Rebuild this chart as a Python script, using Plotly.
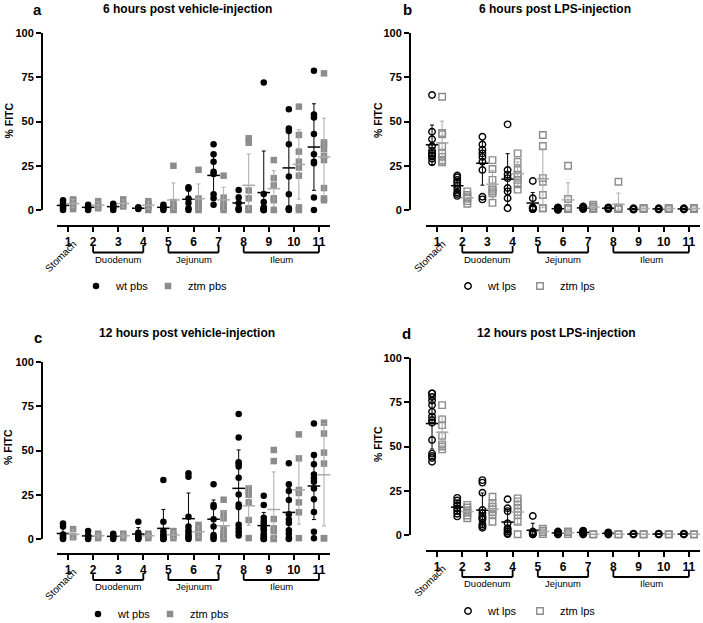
import numpy as np
import plotly.graph_objects as go

W, H = 703, 623
FONT = "Liberation Sans, Arial, Helvetica, sans-serif"

# ---------------- data ----------------
categories = list(range(1, 12))
tick_labels = [str(c) for c in categories]
first_label = "Stomach"
regions = [("Duodenum", 2, 4), ("Jejunum", 5, 7), ("Ileum", 8, 11)]
y_ticks = [0, 25, 50, 75, 100]
panel_letters = ["a", "b", "c", "d"]
panel_titles = ["6 hours post vehicle-injection", "6 hours post LPS-injection",
                "12 hours post vehicle-injection", "12 hours post LPS-injection"]
series_names = [("wt pbs", "ztm pbs"), ("wt lps", "ztm lps"),
                ("wt pbs", "ztm pbs"), ("wt lps", "ztm lps")]
y_title = "% FITC"

# panel a: 6 h vehicle
a_wt = [
    [0, 1, 2, 3, 4, 5.5],
    [0, 1, 2, 3],
    [0, 1, 2, 3, 3.5],
    [0.5, 1, 1.5],
    [0, 1, 2, 3],
    [0, 1, 4, 6.5, 12, 12.8],
    [3, 6.6, 8.9, 20.3, 21.6, 27.3, 31.5, 37.1],
    [0, 0.5, 1, 4, 7, 11.3],
    [0, 0, 0, 0.5, 1, 1.5, 4.5, 9, 72],
    [0, 0.5, 1, 8.9, 18.9, 37.1, 44.6, 46.1, 56.9],
    [0, 7, 26.4, 27.3, 31.5, 43, 52.2, 54, 78.7],
]
a_ztm = [
    [0.5, 2, 4, 5.5, 6],
    [1, 2, 5],
    [2, 3, 6],
    [0, 2, 4, 5],
    [0, 0.5, 1, 3, 4.5, 25],
    [0, 1, 3, 5, 6.5, 22.7],
    [0, 1, 2.5, 4.5, 7, 19.4],
    [0, 0.5, 1, 6.6, 11, 38, 40.5],
    [0, 5.5, 6.6, 13.9, 18, 28.2],
    [0, 1.5, 19.4, 24, 27.3, 33, 42.4, 58.4],
    [5.5, 6.6, 12.4, 28.2, 30.6, 34.5, 37, 38.2, 77.2],
]

# panel b: 6 h LPS
b_wt = [
    [27, 29, 30.5, 31, 32, 33.5, 36, 40, 44.2, 65],
    [8, 9, 10, 12, 14, 15.5, 17, 18.5, 19.5],
    [6, 7.5, 22.6, 27.3, 30, 32, 34, 37, 41.4],
    [1, 6.6, 10.5, 12.4, 18, 20, 22.6, 48.4],
    [0.5, 0.5, 1, 1, 1.5, 6.6, 16.4],
    [0, 0.5, 0.5, 1, 1, 1.5],
    [0.5, 1, 1, 1.5, 2],
    [0.5, 1, 1, 1.5],
    [0.2, 0.5, 0.5, 1],
    [0.3, 0.5, 1],
    [0.3, 0.5, 1],
]
b_ztm = [
    [27, 28, 30, 32, 36, 42.8, 43.5, 64],
    [3.5, 5, 6.5, 7.5, 8.5, 10.5],
    [4, 9.5, 10.5, 11.5, 12.5, 17, 23.2, 28.2],
    [11.5, 14.5, 17, 19, 20, 22.6, 27.3, 32],
    [1, 1, 8.5, 16, 18, 36.2, 42.4],
    [0.5, 0.5, 1, 1, 6.2, 25],
    [0.5, 1, 2, 3],
    [0.5, 0.5, 1, 1, 1, 16],
    [0.5, 1, 1],
    [0.5, 1, 1],
    [0.5, 1, 1],
]

# panel c: 12 h vehicle
c_wt = [
    [0, 0.5, 1, 2, 2.5, 7, 8.8],
    [0, 0.5, 2, 4.5],
    [0, 1, 2, 3],
    [0, 0.5, 1, 2, 3.5, 9.8],
    [0, 0, 0.5, 1, 2, 3, 4.5, 9.8, 33.3],
    [0, 1, 2, 3.5, 5, 7, 12.6, 35.2, 37.1],
    [0, 1, 2.3, 7, 11.1, 18, 19.2, 30.9],
    [2, 4, 6, 8, 18, 19.5, 25.2, 34.6, 41, 42.5, 43.3, 57.4, 70.6],
    [0, 0, 1, 2, 3, 5, 6, 7, 8.5, 10, 12, 19.2, 24.5],
    [0, 0.5, 3, 5, 9, 11, 14, 22, 27.1, 30.9, 42.8],
    [0.4, 4.1, 15.3, 22.5, 28.6, 32.4, 34.3, 36.5, 42.2, 47.5, 65.3],
]
c_ztm = [
    [1, 1.5, 5.6],
    [0.5, 2, 3],
    [0.5, 2, 3],
    [0.5, 2, 3],
    [0.5, 2, 4.5],
    [0.5, 2, 4, 6, 8],
    [0, 0.5, 2, 3, 6, 11.7, 14.5, 22.2],
    [0.5, 10.7, 20.7, 25, 27, 28.6],
    [0, 0.5, 4.5, 6, 11.3, 44, 50.3],
    [0.5, 15.1, 20.7, 26, 27.7, 45.6, 59.1],
    [0.4, 0.5, 42.6, 48.8, 59.6, 65.7],
]

# panel d: 12 h LPS
d_wt = [
    [41.4, 43.5, 44.6, 46, 53.7, 63.4, 65, 66.9, 69.6, 73.4, 76, 78, 80, 80],
    [10.5, 12, 13.5, 15, 16.5, 18, 19.5, 21],
    [4.1, 5, 6, 8.7, 9.6, 10.5, 12.3, 14.1, 23.9, 29.6, 31],
    [0.5, 1, 2, 3, 3.8, 6.6, 13.5, 15.1, 20.2],
    [0.3, 0.5, 1, 1.5, 2, 10.7],
    [0.3, 0.8, 1.5, 2],
    [0.3, 1, 1.5, 2, 2.5],
    [0.3, 1, 1.5],
    [0.3, 0.5, 0.8],
    [0.3, 0.5, 0.8],
    [0.3, 0.5, 0.8],
]
d_ztm = [
    [48.4, 50, 51.2, 56.1, 62.1, 65.3, 73.4],
    [9.5, 11, 12.5, 14, 15.5, 17],
    [7.5, 11.5, 13, 14.5, 16, 18, 21.6],
    [0.4, 7.5, 11.3, 13, 15, 17, 19, 20.7],
    [0.5, 1.5, 2.5, 3.5],
    [0.5, 1.5, 2],
    [0.3, 0.5],
    [0.3, 0.5],
    [0.3, 0.5],
    [0.3, 0.5],
    [0.3, 0.5],
]

panel_data = [(a_wt, a_ztm), (b_wt, b_ztm), (c_wt, c_ztm), (d_wt, d_ztm)]

# ---------------- layout geometry (pixels) ----------------
geom = [
    dict(x0=57, x1=330, ytop=33, ybot=210, xax=226, yax=42, title=(187, 9), letter=(37, 9),
         ytitle=(8.5, 121), stomach=(-7.5, 256.5), br=(245, 252.5), brl=259.5, leg=(102, 286)),
    dict(x0=426, x1=700, ytop=33, ybot=210, xax=226, yax=410, title=(555, 9), letter=(407, 9),
         ytitle=(378, 120), stomach=(-7.5, 256.5), br=(246, 252.5), brl=259, leg=(474, 286)),
    dict(x0=57, x1=330, ytop=362, ybot=539, xax=554, yax=42, title=(187, 333), letter=(38, 337),
         ytitle=(8, 447), stomach=(-7.5, 584.5), br=(573, 580), brl=586.5, leg=(104, 614)),
    dict(x0=426, x1=700, ytop=358, ybot=535, xax=551, yax=410, title=(556, 333), letter=(406, 333),
         ytitle=(378, 444), stomach=(-8, 581), br=(569.5, 577), brl=583, leg=(474, 611)),
]


def px(x):
    return x / W


def py(y):
    return 1 - y / H


WT_COL = "#000000"
ZTM_COL = "#8c8c8c"
ZTM_BAR = "#ababab"
OFF = 0.2

fig = go.Figure()
shapes, annotations = [], []
layout = {}

for i, ((wt, ztm), g) in enumerate(zip(panel_data, geom)):
    sfx = "" if i == 0 else str(i + 1)
    xa, ya, leg = "x" + sfx, "y" + sfx, "legend" + sfx
    filled = i in (0, 2)
    groups = [
        (wt, -OFF, WT_COL, WT_COL, "circle" if filled else "circle-open", series_names[i][0], 27),
        (ztm, OFF, ZTM_COL, ZTM_BAR, "square" if filled else "square-open", series_names[i][1], 50),
    ]
    for vals, off, col, barcol, sym, name, lw in groups:
        xs, ys = [], []
        for c, v in zip(categories, vals):
            xs += [c + off] * len(v)
            ys += list(v)
        fig.add_trace(go.Scatter(
            x=xs, y=ys, mode="markers", name=name, xaxis=xa, yaxis=ya, legend=leg,
            legendwidth=lw, cliponaxis=False, hoverinfo="skip",
            marker=dict(symbol=sym, size=6.5, color=col,
                        line=dict(width=0 if filled else 1.4, color=col)),
        ))
        means = [float(np.mean(v)) for v in vals]
        sds = [float(np.std(v, ddof=1)) for v in vals]
        minus = [min(s, m) for s, m in zip(sds, means)]
        fig.add_trace(go.Scatter(
            x=[c + off for c in categories], y=means, mode="markers", showlegend=False,
            xaxis=xa, yaxis=ya, cliponaxis=False, hoverinfo="skip",
            marker=dict(symbol="line-ew", size=9, color=barcol, line=dict(width=1.5, color=barcol)),
            error_y=dict(type="data", symmetric=False, array=sds, arrayminus=minus,
                         color=barcol, thickness=1, width=2),
        ))

    layout["xaxis" + sfx] = dict(
        domain=[px(g["x0"]), px(g["x1"])], range=[0.56, 11.44], anchor="free",
        position=py(g["xax"]), tickvals=categories, ticktext=tick_labels,
        ticks="outside", ticklen=5, tickwidth=2, tickcolor="black", automargin=False,
        showline=True, linewidth=2, linecolor="black", showgrid=False, zeroline=False,
        tickfont=dict(family=FONT, size=12, color="black", weight="bold"),
    )
    layout["yaxis" + sfx] = dict(
        domain=[py(g["ybot"]), py(g["ytop"])], range=[0, 100], anchor="free",
        position=px(g["yax"]), tickvals=y_ticks, automargin=False,
        ticks="outside", ticklen=5, tickwidth=2, tickcolor="black",
        showline=True, linewidth=2, linecolor="black", showgrid=False, zeroline=False,
        tickfont=dict(family=FONT, size=11, color="black", weight="bold"),
    )
    layout[leg] = dict(
        orientation="h", x=px(g["leg"][0] - 26), xanchor="left", y=py(g["leg"][1]),
        yanchor="middle", font=dict(family=FONT, size=11, color="black"),
        bgcolor="rgba(0,0,0,0)", borderwidth=0, itemwidth=30, tracegroupgap=0,
    )

    # brackets for gut regions
    for name, s, e in regions:
        for x0, y0, x1, y1 in [(s, g["br"][0], s, g["br"][1]), (e, g["br"][0], e, g["br"][1]),
                               (s, g["br"][1], e, g["br"][1])]:
            shapes.append(dict(type="line", xref=xa, yref="paper", x0=x0, x1=x1,
                               y0=py(y0), y1=py(y1), line=dict(color="black", width=1.8)))
        annotations.append(dict(text=name, xref=xa, yref="paper", x=(s + e) / 2, y=py(g["brl"]),
                                showarrow=False, xanchor="center", yanchor="middle",
                                font=dict(family=FONT, size=9.5, color="black")))
    annotations.append(dict(text=first_label, xref=xa, yref="paper", x=categories[0],
                            xshift=g["stomach"][0], y=py(g["stomach"][1]), textangle=-45,
                            showarrow=False, xanchor="center", yanchor="middle",
                            font=dict(family=FONT, size=10, color="black")))
    annotations.append(dict(text=panel_titles[i], xref="paper", yref="paper",
                            x=px(g["title"][0]), y=py(g["title"][1]), showarrow=False,
                            xanchor="center", yanchor="middle",
                            font=dict(family=FONT, size=12, color="black", weight="bold")))
    annotations.append(dict(text=panel_letters[i], xref="paper", yref="paper",
                            x=px(g["letter"][0]), y=py(g["letter"][1]), showarrow=False,
                            xanchor="center", yanchor="middle",
                            font=dict(family=FONT, size=15, color="black", weight="bold")))
    annotations.append(dict(text=y_title, xref="paper", yref="paper",
                            x=px(g["ytitle"][0]), y=py(g["ytitle"][1]), textangle=-90,
                            showarrow=False, xanchor="center", yanchor="middle",
                            font=dict(family=FONT, size=10.5, color="black", weight="bold")))

fig.update_layout(
    width=W, height=H, margin=dict(l=0, r=0, t=0, b=0, autoexpand=False),
    paper_bgcolor="white", plot_bgcolor="white",
    font=dict(family=FONT, color="black"),
    shapes=shapes, annotations=annotations, **layout,
)

fig.write_html("out.html", config={"displayModeBar": False},
               post_script="document.body.style.margin='0';")
